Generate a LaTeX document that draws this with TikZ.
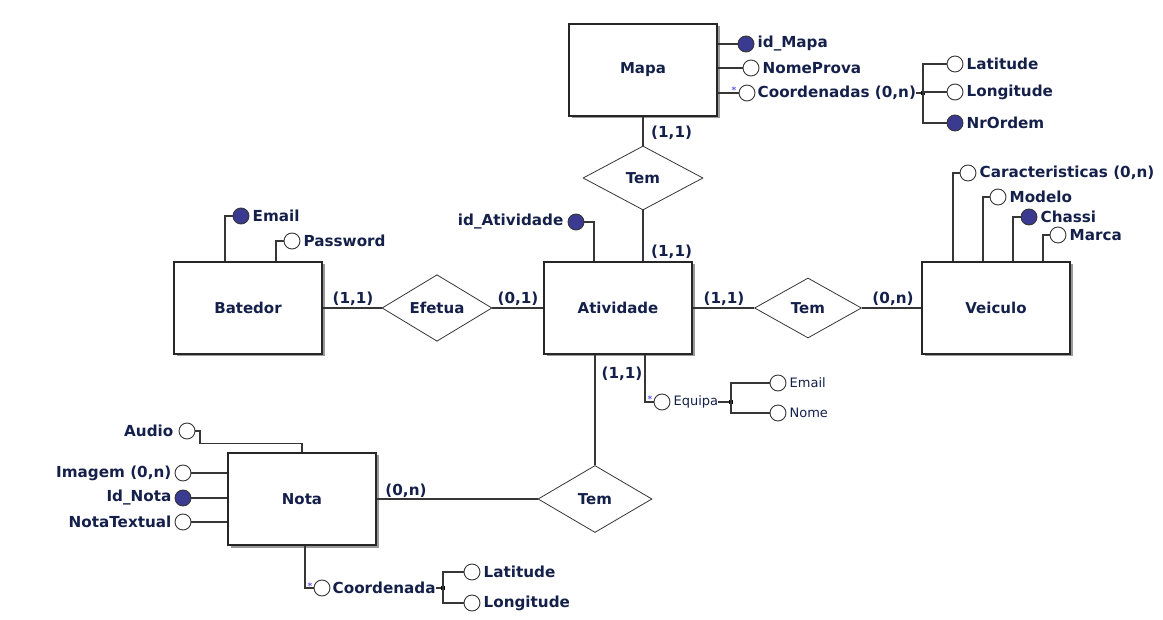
\documentclass[tikz,border=0pt]{standalone}
\usepackage{fontspec}
\setmainfont{DejaVu Sans}
\usepackage{tikz}
\usetikzlibrary{positioning,shapes.geometric,shadows}
\definecolor{keyc}{HTML}{3A3A90}
\definecolor{txtc}{HTML}{14204A}
\definecolor{linec}{HTML}{363636}
\definecolor{starc}{HTML}{5A5AF0}
\tikzset{
  ent/.style={draw=black!85,line width=1.3pt,fill=white,minimum width=148pt,minimum height=92pt,font=\bfseries\fontsize{15}{17}\selectfont,text=txtc,drop shadow={shadow xshift=2.5pt,shadow yshift=-2.5pt,fill=black!40,opacity=1}},
  rel/.style={diamond,draw=linec,line width=0.8pt,fill=white,inner sep=0pt,font=\bfseries\fontsize{15}{17}\selectfont,text=txtc},
  att/.style={circle,draw=linec,line width=0.9pt,fill=white,minimum size=16pt,inner sep=0pt},
  key/.style={att,fill=keyc},
  lbl/.style={font=\bfseries\fontsize{15.2}{17}\selectfont,text=txtc,inner sep=0pt},
  sub/.style={font=\fontsize{13}{15}\selectfont,text=txtc,inner sep=0pt},
  card/.style={lbl},
  jn/.style={rectangle,fill=black,minimum size=4pt,inner sep=0pt},
  star/.style={font=\bfseries\small,text=starc,inner sep=0pt},
  ln/.style={draw=linec,line width=1.2pt},
}
\begin{document}
\begin{tikzpicture}[x=1pt,y=-1pt]
  \useasboundingbox (0,0) rectangle (1163,620);
  \node[ent] (mapa) at (643,70) {Mapa};
  \node[ent] (batedor) at (248,308) {Batedor};
  \node[ent] (ativ) at (618,308) {Atividade};
  \node[ent] (veic) at (996,308) {Veiculo};
  \node[ent] (nota) at (302,499) {Nota};
  \node[rel,minimum width=120pt,minimum height=64pt] (temA) at (643,178) {Tem};
  \node[rel,minimum width=110pt,minimum height=60pt] (efetua) at (437,308) {Efetua};
  \node[rel,minimum width=107pt,minimum height=60pt] (temB) at (808,308) {Tem};
  \node[rel,minimum width=114pt,minimum height=67pt] (temC) at (595,499) {Tem};
  \draw[ln] (mapa) -- (temA);
  \draw[ln] (temA) -- (temA |- ativ.north);
  \draw[ln] (batedor) -- (efetua);
  \draw[ln] (efetua) -- (ativ);
  \draw[ln] (ativ) -- (temB);
  \draw[ln] (temB) -- (veic);
  \draw[ln] (temC) -- (temC |- ativ.south);
  \draw[ln] (nota) -- (temC);
  \node[card,anchor=west] (c1) at (651,133) {(1,1)};
  \node[card,anchor=west] (c2) at (651,252) {(1,1)};
  \node[card] (c3) at (353,299) {(1,1)};
  \node[card] (c4) at (518,299) {(0,1)};
  \node[card] (c5) at (724,299) {(1,1)};
  \node[card] (c6) at (893,299) {(0,n)};
  \node[card] (c7) at (622,374) {(1,1)};
  \node[card] (c8) at (406,491) {(0,n)};
  \node[key] (idm) at (746,44) {};
  \node[att] (np) at (751,68) {};
  \node[att] (co) at (747,93) {};
  \foreach \a in {idm,np,co} \draw[ln] (mapa.east |- \a) -- (\a);
  \node[star] (s1) at (734,90) {*};
  \node[lbl,right=3pt of idm] (idmt) {id\_Mapa};
  \node[lbl,right=3pt of np] (npt) {NomeProva};
  \node[lbl,right=2pt of co] (cot) {Coordenadas (0,n)};
  \node[jn] (cj) at (923,93) {};
  \node[att] (lat1) at (955,64) {};
  \node[att] (lon1) at (955,92) {};
  \node[key] (nro) at (955,123) {};
  \draw[ln] (cot) -- (cj);
  \foreach \a in {lat1,lon1,nro} \draw[ln] (cj.center) |- (\a);
  \node[lbl,right=3pt of lat1] (lat1t) {Latitude};
  \node[lbl,right=3pt of lon1] (lon1t) {Longitude};
  \node[lbl,right=3pt of nro] (nrot) {NrOrdem};
  \foreach \a/\dx/\x/\y/\s in {car/-43/968/173/att,mod/-13/998/197/att,cha/17/1029/217/key,mar/47/1058/235/att}
    {\node[\s] (\a) at (\x,\y) {}; \draw[ln] (\a) -| ([xshift=\dx pt]veic.north);}
  \node[lbl,right=3pt of car] (cart) {Caracteristicas (0,n)};
  \node[lbl,right=3pt of mod] (modt) {Modelo};
  \node[lbl,right=3pt of cha] (chat) {Chassi};
  \node[lbl,right=3pt of mar] (mart) {Marca};
  \node[key] (em) at (241,216) {};
  \node[att] (pw) at (292,241) {};
  \draw[ln] (em) -| ([xshift=-23pt]batedor.north);
  \draw[ln] (pw) -| ([xshift=28pt]batedor.north);
  \node[lbl,right=3pt of em] (emt) {Email};
  \node[lbl,right=3pt of pw] (pwt) {Password};
  \node[key] (ida) at (576,222) {};
  \draw[ln] (ida) -| ([xshift=-24pt]ativ.north);
  \node[lbl,left=4pt of ida] (idat) {id\_Atividade};
  \node[att] (eq) at (662,402) {};
  \draw[ln] ([xshift=27pt]ativ.south) |- (eq);
  \node[star] (s2) at (650,399) {*};
  \node[sub,right=3pt of eq] (eqt) {Equipa};
  \node[jn] (ej) at (731,402) {};
  \node[att] (em2) at (778,383) {};
  \node[att] (nm) at (778,413) {};
  \draw[ln] (eqt) -- (ej);
  \foreach \a in {em2,nm} \draw[ln] (ej.center) |- (\a);
  \node[sub,right=3pt of em2] (em2t) {Email};
  \node[sub,right=3pt of nm] (nmt) {Nome};
  \node[att] (au) at (187,431) {};
  \draw[ln] (au) -- ++(13,0) |- ([yshift=9pt]nota.north) -- (nota.north);
  \node[att] (img) at (183,473) {};
  \node[key] (idn) at (183,498) {};
  \node[att] (nt) at (183,522) {};
  \foreach \a in {img,idn,nt} \draw[ln] (\a) -- (nota.west |- \a);
  \node[lbl,left=5pt of au] (aut) {Audio};
  \node[lbl,left=3pt of img] (imgt) {Imagem (0,n)};
  \node[lbl,left=3pt of idn] (idnt) {Id\_Nota};
  \node[lbl,left=3pt of nt] (ntt) {NotaTextual};
  \node[att] (cd) at (322,588) {};
  \draw[ln] ([xshift=3pt]nota.south) |- (cd);
  \node[star] (s3) at (310,586) {*};
  \node[lbl,right=2pt of cd] (cdt) {Coordenada};
  \node[jn] (cq) at (443,588) {};
  \node[att] (lat2) at (472,572) {};
  \node[att] (lon2) at (472,603) {};
  \draw[ln] (cdt) -- (cq);
  \foreach \a in {lat2,lon2} \draw[ln] (cq.center) |- (\a);
  \node[lbl,right=3pt of lat2] (lat2t) {Latitude};
  \node[lbl,right=3pt of lon2] (lon2t) {Longitude};
\end{tikzpicture}
\end{document}
